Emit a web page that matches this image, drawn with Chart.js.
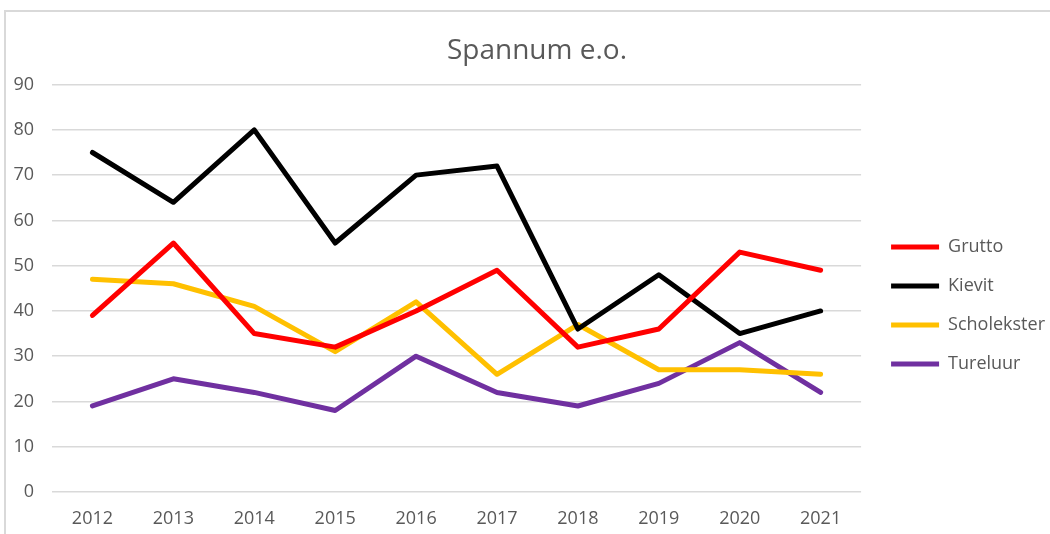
<!DOCTYPE html>
<html>
<head>
<meta charset="utf-8">
<script src="https://cdn.jsdelivr.net/npm/chart.js@4/dist/chart.umd.min.js"></script>
<style>
  html, body { margin: 0; padding: 0; background: #ffffff; overflow: hidden; width: 1050px; height: 534px; }
  #frame { position: absolute; left: 4px; top: 10px; width: 1100px; height: 600px; border: 2px solid #d9d9d9; box-sizing: border-box; }
  #wrap { position: absolute; left: 0; top: 0; width: 1080px; height: 534px; }
</style>
</head>
<body>
<div id="frame"></div>
<div id="wrap"><canvas id="c" width="1080" height="534"></canvas></div>
<script>
const years = ['2012','2013','2014','2015','2016','2017','2018','2019','2020','2021'];
const grutto      = [39, 55, 35, 32, 40, 49, 32, 36, 53, 49];
const kievit      = [75, 64, 80, 55, 70, 72, 36, 48, 35, 40];
const scholekster = [47, 46, 41, 31, 42, 26, 37, 27, 27, 26];
const tureluur    = [19, 25, 22, 18, 30, 22, 19, 24, 33, 22];
const seriesNames = ['Grutto', 'Kievit', 'Scholekster', 'Tureluur'];
const seriesColors = ['#FF0000', '#000000', '#FFC000', '#7030A0'];
const yTicks = { min: 0, max: 90, step: 10 };

const FONT = "'Open Sans', 'Noto Sans', sans-serif";
const GREY = '#595959';

const seriesData = [grutto, kievit, scholekster, tureluur];
const datasets = seriesNames.map((name, i) => ({
  label: name,
  data: seriesData[i],
  yAxisID: 'y',
  borderColor: seriesColors[i],
  backgroundColor: seriesColors[i],
  borderWidth: 5,
  pointRadius: 0,
  pointHoverRadius: 0,
  tension: 0,
  borderCapStyle: 'round',
  borderJoinStyle: 'round',
  fill: false
}));

new Chart(document.getElementById('c'), {
  type: 'line',
  data: { labels: years, datasets },
  options: {
    responsive: false,
    animation: false,
    events: [],
    layout: { padding: { left: 0, right: 6, top: 0, bottom: 2 } },
    plugins: {
      title: {
        display: true,
        text: 'Spannum e.o.',
        color: GREY,
        font: { family: FONT, size: 28, weight: 'normal' },
        padding: { top: 34, bottom: 17 }
      },
      legend: {
        position: 'right',
        maxWidth: 240,
        title: { display: true, text: ' ', font: { family: FONT, size: 12 }, padding: { top: 64.6, bottom: 0 } },
        labels: {
          color: GREY,
          font: { family: FONT, size: 18 },
          boxWidth: 48,
          boxHeight: 5,
          padding: 21,
          generateLabels: (chart) => Chart.defaults.plugins.legend.labels.generateLabels(chart)
            .map(l => Object.assign(l, { lineWidth: 0 }))
        }
      },
      tooltip: { enabled: false }
    },
    scales: {
      x: {
        offset: true,
        grid: { display: false, drawTicks: false },
        border: { display: false },
        ticks: { color: GREY, font: { family: FONT, size: 18 }, padding: 16, maxRotation: 0 },
        afterFit: (s) => { s.height = 40; }
      },
      y: {
        min: yTicks.min,
        max: yTicks.max,
        grid: { color: '#d9d9d9', lineWidth: 1.5, drawTicks: false },
        border: { display: false },
        ticks: { stepSize: yTicks.step, color: GREY, font: { family: FONT, size: 18 }, padding: 18 },
        afterFit: (s) => { s.width = 52; }
      },
      yR: {
        position: 'right',
        display: true,
        grid: { display: false, drawTicks: false },
        border: { display: false },
        ticks: { display: false },
        afterFit: (s) => { s.width = 9; }
      },
      yR2: {
        position: 'right',
        weight: 2000,
        display: true,
        grid: { display: false, drawTicks: false },
        border: { display: false },
        ticks: { display: false },
        afterFit: (s) => { s.width = 19; }
      }
    }
  }
});
</script>
</body>
</html>
